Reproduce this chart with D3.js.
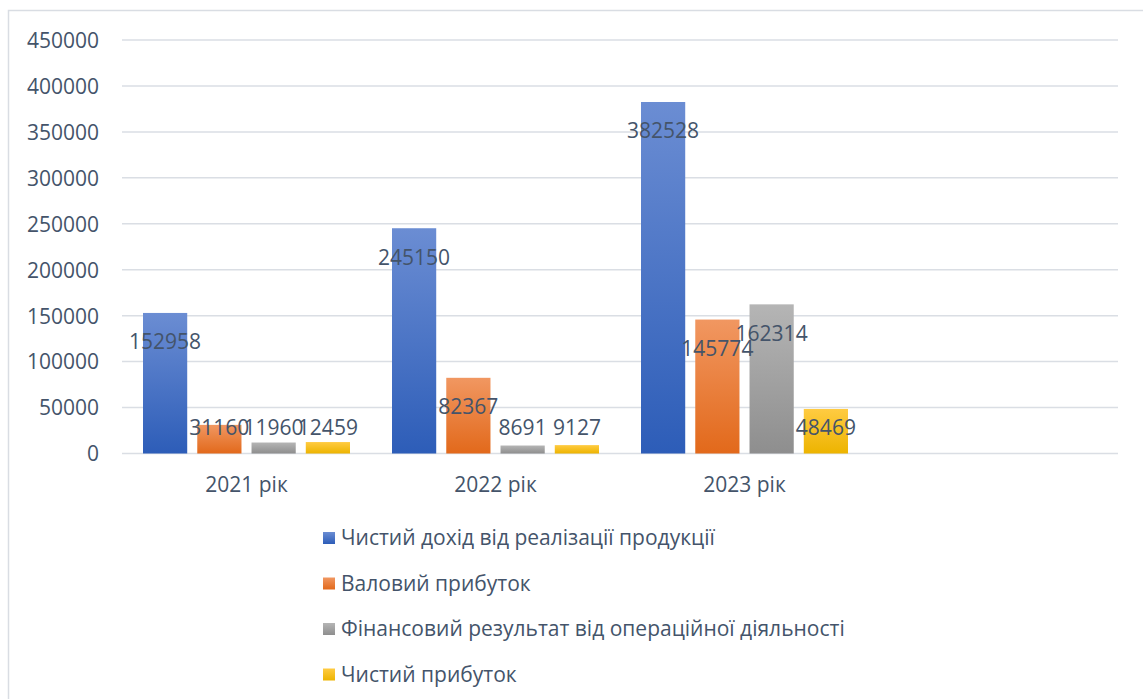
<!DOCTYPE html>
<html><head><meta charset="utf-8">
<script src="https://cdn.jsdelivr.net/npm/d3@7"></script>
<style>body{margin:0;background:#fff;} text{font-family:"Open Sans","Noto Sans",sans-serif;}</style>
</head><body>
<svg id="c" width="1143" height="699"></svg>
<script>
const categories = ["2021 рік", "2022 рік", "2023 рік", ""];
const seriesNames = ["Чистий дохід від реалізації продукції", "Валовий прибуток", "Фінансовий результат від операційної діяльності", "Чистий прибуток"];
const netRevenue = [152958, 245150, 382528];
const grossProfit = [31160, 82367, 145774];
const operatingResult = [11960, 8691, 162314];
const netProfit = [12459, 9127, 48469];
const yTicks = [0, 50000, 100000, 150000, 200000, 250000, 300000, 350000, 400000, 450000];
const gradStops = [["#6b8dd3", "#2d5db8"], ["#f19761", "#e2691b"], ["#b5b5b5", "#8e8e8e"], ["#ffcb42", "#edb400"]];

const series = [netRevenue, grossProfit, operatingResult, netProfit];
const svg = d3.select("#c");
const textColor = "#44546a";
const fs = 21;

svg.append("rect").attr("x", 8.5).attr("y", 10.5).attr("width", 1200).attr("height", 800)
  .attr("fill", "none").attr("stroke", "#d9dde3").attr("stroke-width", 1.5);

const defs = svg.append("defs");
gradStops.forEach((g, i) => {
  const lg = defs.append("linearGradient").attr("id", "g" + i).attr("x1", 0).attr("y1", 0).attr("x2", 0).attr("y2", 1);
  lg.append("stop").attr("offset", "0%").attr("stop-color", g[0]);
  lg.append("stop").attr("offset", "100%").attr("stop-color", g[1]);
});

const x0 = d3.scaleBand().domain(categories.map((d, i) => i)).range([122, 1118]);
const y = d3.scaleLinear().domain([0, 450000]).range([453.5, 40]);
const inner = d3.scaleBand().domain(d3.range(4)).range([21, x0.bandwidth() - 21]).paddingInner(10 / 54).paddingOuter(0);

// gridlines
svg.append("g").selectAll("line").data(yTicks).join("line")
  .attr("x1", 122).attr("x2", 1118).attr("y1", d => y(d)).attr("y2", d => y(d))
  .attr("stroke", "#dadee4").attr("stroke-width", 1.5);

// y axis labels
const yAxis = d3.axisLeft(y).tickValues(yTicks).tickSize(0).tickPadding(0).tickFormat(d3.format("d"));
const ya = svg.append("g").attr("transform", "translate(99,0)").call(yAxis);
ya.select(".domain").remove();
ya.selectAll("text").attr("fill", textColor).style("font-size", fs + "px").attr("dy", "0.35em");

// x axis labels
const xAxis = d3.axisBottom(x0).tickSize(0).tickFormat(i => categories[i]);
const xa = svg.append("g").attr("transform", "translate(0,474)").call(xAxis);
xa.select(".domain").remove();
xa.selectAll("text").attr("fill", textColor).style("font-size", fs + "px").attr("dy", "0.35em").attr("y", 11);

// bars
series.forEach((vals, s) => {
  const g = svg.append("g");
  g.selectAll("rect").data(vals).join("rect")
    .attr("x", (d, i) => x0(i) + inner(s))
    .attr("width", inner.bandwidth())
    .attr("y", d => y(d))
    .attr("height", d => y(0) - y(d))
    .attr("fill", "url(#g" + s + ")");
});
// labels
series.forEach((vals, s) => {
  svg.append("g").selectAll("text").data(vals).join("text")
    .attr("x", (d, i) => x0(i) + inner(s) + inner.bandwidth() / 2)
    .attr("y", d => Math.min(y(d) + 29, y(0) - 25.5))
    .attr("dy", "0.35em")
    .attr("text-anchor", "middle")
    .attr("fill", textColor).style("font-size", fs + "px")
    .text(d => d);
});

// legend
const lg = svg.append("g");
seriesNames.forEach((n, i) => {
  const cy = 538 + i * 45.5;
  lg.append("rect").attr("x", 323).attr("y", cy - 6).attr("width", 12).attr("height", 12).attr("fill", "url(#g" + i + ")");
  lg.append("text").attr("x", 341).attr("y", cy).attr("dy", "0.35em").attr("fill", textColor).style("font-size", fs + "px").text(n);
});
</script>
</body></html>
